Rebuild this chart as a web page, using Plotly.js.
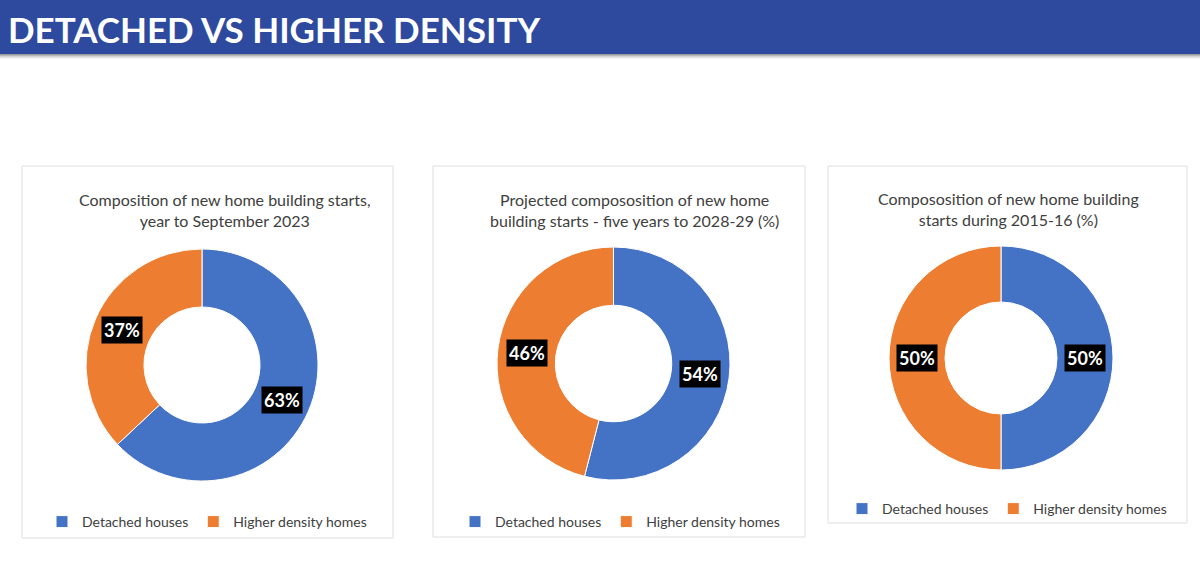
<!DOCTYPE html>
<html><head><meta charset="utf-8">
<script src="https://cdn.plot.ly/plotly-3.0.1.min.js"></script>
<style>html,body{margin:0;padding:0;background:#fff}#chart{width:1200px;height:567px}</style>
</head><body><div id="chart"></div>
<script>
// ---- data ----
const categories = ["Detached houses", "Higher density homes"];
const valuesYearToSep2023 = [63, 37];
const valuesProjected2029 = [54, 46];
const values2015_16 = [50, 50];
const chartTitles = [
  "Composition of new home building starts,<br>year to September 2023",
  "Projected compososition of new home<br>building starts - five years to 2028-29 (%)",
  "Compososition of new home building<br>starts during 2015-16 (%)"
];
const headerTitle = "DETACHED VS HIGHER DENSITY";

// ---- layout helpers ----
const W = 1200, H = 567;
const px = x => x / W;
const py = y => 1 - y / H;
const colors = ["#4472C4", "#ED7D31"];
const HOLE = 0.5;

const panels = [
  {box: [22, 166, 393, 538], pie: [86, 249, 318, 481], title: [224.5, 210], legend: [207, 522], vals: valuesYearToSep2023, leg: "legend"},
  {box: [433, 166, 805, 537], pie: [497, 247, 730, 480], title: [634, 210], legend: [620, 522], vals: valuesProjected2029, leg: "legend2"},
  {box: [828, 166, 1187, 523], pie: [889, 246, 1113, 470], title: [1008, 209], legend: [1007, 509], vals: values2015_16, leg: "legend3"}
];

// each pie gets its own legend; an invisible zero-width suffix keeps Plotly from
// merging same-named slices of different pies into a single legend entry
const traces = panels.map((p, i) => ({
  type: "pie",
  labels: categories.map(c => c + "\u200B".repeat(i)),
  values: p.vals,
  hole: HOLE,
  sort: false,
  direction: "clockwise",
  rotation: 0,
  textinfo: "none",
  hoverinfo: "label+percent",
  marker: {colors: colors, line: {color: "#ffffff", width: 1}},
  domain: {x: [px(p.pie[0]), px(p.pie[2])], y: [py(p.pie[3]), py(p.pie[1])]},
  legend: p.leg,
  showlegend: true
}));

const shapes = [];
// header bar + shadow
shapes.push({type: "rect", xref: "paper", yref: "paper", x0: 0, x1: 1, y0: py(54), y1: 1, fillcolor: "#2E4A9E", line: {width: 0}, layer: "below"});
const shadow = ["#9a9a9a", "#b8b8b8", "#d2d2d2", "#e6e6e6", "#f3f3f3"];
shadow.forEach((c, i) => shapes.push({type: "rect", xref: "paper", yref: "paper", x0: 0, x1: 1, y0: py(55 + i), y1: py(54 + i), fillcolor: c, line: {width: 0}, layer: "below"}));
panels.forEach(p => shapes.push({type: "rect", xref: "paper", yref: "paper",
  x0: px(p.box[0]), x1: px(p.box[2]), y0: py(p.box[3]), y1: py(p.box[1]),
  fillcolor: "#ffffff", line: {color: "#dedede", width: 1}, layer: "below"}));

const annotations = [];
annotations.push({xref: "paper", yref: "paper", x: px(6), y: py(29), xanchor: "left", yanchor: "middle",
  text: "<b>" + headerTitle + "</b>", showarrow: false,
  font: {family: "Lato, 'DejaVu Sans', sans-serif", size: 35, color: "#ffffff"}});
panels.forEach((p, i) => annotations.push({xref: "paper", yref: "paper", x: px(p.title[0]), y: py(p.title[1]),
  xanchor: "center", yanchor: "middle", align: "center", text: chartTitles[i], showarrow: false,
  font: {family: "Lato, 'Open Sans', sans-serif", size: 16, color: "#404040"}}));

const legendBase = p => ({orientation: "h", x: px(p.legend[0]), y: py(p.legend[1]), xanchor: "center", yanchor: "middle",
  bgcolor: "rgba(0,0,0,0)", font: {family: "Lato, 'Open Sans', sans-serif", size: 14, color: "#404040"},
  itemwidth: 30, tracegroupgap: 0, traceorder: "normal"});

const layout = {
  width: W, height: H,
  margin: {l: 0, r: 0, t: 0, b: 0},
  paper_bgcolor: "#ffffff",
  plot_bgcolor: "#ffffff",
  shapes: shapes,
  annotations: annotations,
  legend: legendBase(panels[0]),
  legend2: legendBase(panels[1]),
  legend3: legendBase(panels[2])
};

const gd = document.getElementById("chart");
Plotly.newPlot(gd, traces, layout, {displayModeBar: false, staticPlot: true}).then(() => {
  const fl = gd._fullLayout, gs = fl._size;
  const labelAnns = [];
  gd.calcdata.forEach((cd, i) => {
    const cd0 = cd[0];
    const total = cd.reduce((s, pt) => s + pt.v, 0);
    const k = (1 + HOLE) / 2;
    cd.forEach(pt => {
      const xPix = cd0.cx + pt.pxmid[0] * k;
      const yPix = cd0.cy + pt.pxmid[1] * k;
      labelAnns.push({xref: "paper", yref: "paper",
        x: (xPix - gs.l) / gs.w, y: 1 - (yPix - gs.t) / gs.h,
        xanchor: "center", yanchor: "middle", showarrow: false,
        text: "<b>" + Math.round(100 * pt.v / total) + "%</b>",
        bgcolor: "#000000", borderpad: 2,
        font: {family: "Lato, 'Open Sans', sans-serif", size: 18, color: "#ffffff"}});
    });
  });
  return Plotly.relayout(gd, {annotations: annotations.concat(labelAnns)});
});
</script>
</body></html>
